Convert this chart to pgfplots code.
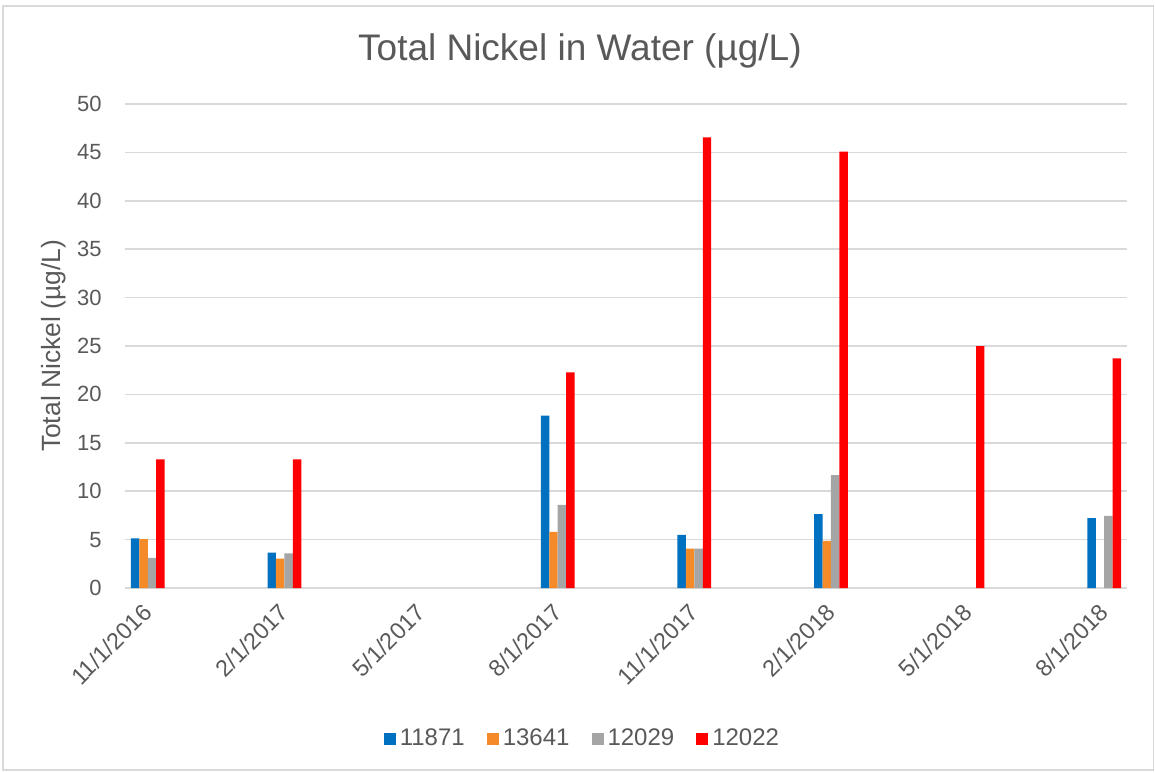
\documentclass[border=0pt]{standalone}
\usepackage{fontspec}
\setmainfont{Liberation Sans}
\usepackage{pgfplots}
\pgfplotsset{compat=1.18}
\definecolor{txt}{HTML}{595959}
\definecolor{gridc}{HTML}{D9D9D9}
\definecolor{cblue}{HTML}{0070C0}
\definecolor{corange}{HTML}{F58A28}
\definecolor{cgray}{HTML}{A5A5A5}
\definecolor{cred}{HTML}{FF0000}
\begin{document}
\begin{tikzpicture}
\path[use as bounding box] (0pt,0pt) rectangle (577.5pt,386pt);
\draw[gridc, line width=0.75pt] (1.5pt,1pt) rectangle (576.75pt,383pt);
\begin{axis}[
  at={(62.5pt,92pt)}, anchor=south west,
  scale only axis, width=501pt, height=242pt,
  ybar, bar width=0.185,
  xmin=-0.5, xmax=21.5, ymin=0, ymax=50,
  ytick={0,5,...,50},
  xtick={0,3,...,21},
  xticklabels={11/1/2016,2/1/2017,5/1/2017,8/1/2017,11/1/2017,2/1/2018,5/1/2018,8/1/2018},
  axis line style={draw=none},
  major tick length=0pt,
  ymajorgrids, grid style={gridc, line width=0.75pt},
  tick label style={font=\fontsize{11}{13}\selectfont, text=txt},
  /pgf/number format/assume math mode=true,
  yticklabel style={anchor=east, inner sep=0pt, xshift=-11.5pt},
  xticklabel style={rotate=45, anchor=east, inner sep=0pt, font=\fontsize{11.7}{14}\selectfont},
  xticklabel shift=10pt,
  title={Total Nickel in Water (µg/L)},
  title style={at={(axis description cs:0.454,1.0647)}, anchor=base, font=\fontsize{18.5}{22}\selectfont, text=txt, inner sep=0pt},
  ylabel={Total Nickel (µg/L)},
  ylabel style={at={(axis description cs:-0.0715,0.5)}, anchor=center, rotate=0, font=\fontsize{13.2}{15}\selectfont, text=txt, inner sep=0pt},
  legend columns=4,
  legend style={at={(axis description cs:0.4575,-0.312)}, anchor=center, draw=none, fill=none, font=\fontsize{12}{14}\selectfont, text=txt,
    /tikz/every even column/.append style={column sep=9pt}},
  legend image code/.code={\fill[#1] (-3pt,-3pt) rectangle (3pt,3pt);},
]
\addplot[fill=cblue, draw=none, bar shift=-0.2775] coordinates {(0,5.13) (3,3.65) (9,17.8) (12,5.5) (15,7.64) (21,7.23)};
\addplot[fill=corange, draw=none, bar shift=-0.0925] coordinates {(0,5.06) (3,3.03) (9,5.8) (12,4.06) (15,4.86)};
\addplot[fill=cgray, draw=none, bar shift=0.0925] coordinates {(0,3.1) (3,3.58) (9,8.6) (12,4.06) (15,11.65) (21,7.44)};
\addplot[fill=cred, draw=none, bar shift=0.2775] coordinates {(0,13.3) (3,13.3) (9,22.28) (12,46.56) (15,45.07) (18,25.0) (21,23.73)};
\legend{11871,13641,12029,12022}
\end{axis}
\end{tikzpicture}
\end{document}
